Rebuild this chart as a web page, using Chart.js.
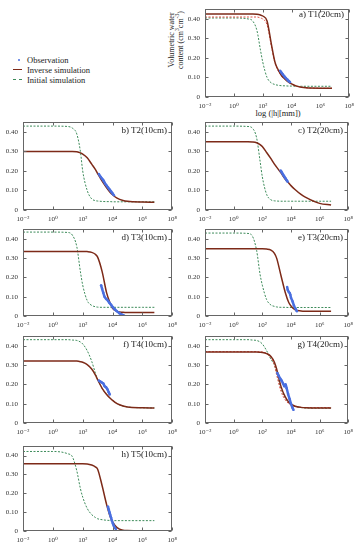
<!DOCTYPE html>
<html>
<head>
<meta charset="utf-8">
<script src="https://cdn.jsdelivr.net/npm/chart.js@4.4.1/dist/chart.umd.min.js"></script>
<style>
  body { margin:0; background:#fff; width:357px; height:550px; position:relative; overflow:hidden;
         font-family:"Liberation Serif","DejaVu Serif",serif; color:#222; }
  .pnl { position:absolute; }
  .tag { position:absolute; font-size:9px; white-space:nowrap; }
  .leg { position:absolute; left:27px; font-size:8.5px; line-height:10px; white-space:nowrap; }
  .sym { position:absolute; }
  sup { font-size:70%; line-height:0; }
</style>
</head>
<body>

<div class="sym" style="left:18px;top:59px;width:2px;height:2px;background:#4a6fe0;border-radius:1px"></div>
<div class="leg" style="top:55px">Observation</div>
<div class="sym" style="left:13px;top:69px;width:9px;height:0;border-top:1.5px solid #7d2a18"></div>
<div class="leg" style="top:65px">Inverse simulation</div>
<div class="sym" style="left:13px;top:79px;width:9px;height:0;border-top:1px dashed #3d8b5a"></div>
<div class="leg" style="top:75px">Initial simulation</div>

<div style="position:absolute;left:136px;top:31px;width:80px;transform:rotate(-90deg);text-align:center;font-size:8px;line-height:9px">Volumetric water<br>content (cm<sup>3</sup>cm<sup>-3</sup>)</div>
<div style="position:absolute;left:238px;top:108px;width:80px;text-align:center;font-size:8.5px">log (|h|[mm])</div>

<script>
// pressure head grid (mm) shared by the simulated curves
const H = [0.01, 1, 10, 20, 40, 70, 100, 200, 400, 700, 1000, 2000, 4000, 7000, 10000, 20000, 50000, 100000, 1000000, 6300000];

const XTICKS = [0.01, 1, 100, 10000, 1000000, 100000000];
const XLABELS = ['10⁻²', '10⁰', '10²', '10⁴', '10⁶', '10⁸'];
const YTICKS = [0, 0.05, 0.10, 0.15, 0.20, 0.25, 0.30, 0.35, 0.40, 0.45];
const YLABELS = ['0', '0.05', '0.10', '0.15', '0.20', '0.25', '0.30', '0.35', '0.40', '0.45'];

// a) T1(20cm)
const A_INV  = [.425,.425,.425,.425,.424,.42,.415,.39,.27,.18,.15,.11,.088,.074,.067,.057,.05,.047,.045,.045];
const A_INIT = [.405,.405,.40,.39,.34,.24,.18,.10,.072,.064,.061,.058,.057,.056,.056,.055,.055,.055,.055,.055];
const A_ALT  = [.41,.41,.41,.41,.41,.405,.40,.37,.26,.175,.145,.108,.086,.073,.066,.057,.05,.047,.045,.045];
const A_OBS_H = [1600, 2000, 2500, 3200, 4000, 5000, 6300, 7900];
const A_OBS   = [.135, .125, .115, .105, .097, .09, .082, .076];

// b) T2(10cm)
const B_INV  = [.30,.30,.30,.30,.298,.293,.287,.268,.235,.208,.187,.148,.114,.09,.078,.061,.049,.045,.041,.04];
const B_INIT = [.43,.43,.428,.42,.39,.30,.20,.10,.057,.048,.046,.044,.043,.043,.042,.042,.042,.042,.042,.042];
const B_OBS_H = [1200, 1600, 2000, 2500, 3200, 4000, 5000, 6300, 8000, 10000, 12500];
const B_OBS   = [.185, .17, .16, .15, .135, .125, .115, .105, .095, .085, .075];

// c) T2(20cm)
const C_INV  = [.35,.35,.35,.349,.345,.335,.325,.295,.263,.235,.22,.19,.158,.138,.125,.104,.08,.066,.034,.026];
const C_INIT = [.43,.43,.428,.42,.37,.25,.17,.08,.052,.047,.046,.045,.045,.045,.045,.045,.045,.045,.045,.045];
const C_OBS_H = [1900, 2300, 2800, 3400, 4200, 5000, 5900];
const C_OBS   = [.203, .193, .182, .172, .162, .153, .145];

// d) T3(10cm)
const D_INV  = [.335,.335,.335,.335,.335,.335,.335,.334,.33,.32,.305,.23,.12,.065,.04,.024,.019,.018,.018,.018];
const D_INIT = [.435,.435,.433,.42,.36,.23,.16,.08,.055,.048,.046,.045,.045,.045,.045,.045,.045,.045,.045,.045];
const D_OBS_H = [1700, 2000, 2400, 2900, 3800, 5000, 6500, 8000, 10500, 14000, 20000, 28000, 40000, 60000];
const D_OBS   = [.16, .14, .12, .10, .088, .078, .066, .058, .046, .035, .024, .015, .008, .002];

// e) T3(20cm)
const E_INV  = [.348,.348,.348,.348,.348,.348,.348,.347,.342,.325,.30,.21,.122,.07,.052,.032,.026,.025,.025,.025];
const E_INIT = [.43,.43,.428,.415,.34,.215,.16,.085,.057,.05,.047,.045,.045,.044,.044,.044,.044,.044,.044,.044];
const E_OBS_H = [5400, 6000, 7000, 8000, 9000, 10000, 13000, 16000, 20000, 26000];
const E_OBS   = [.15, .135, .125, .12, .11, .095, .075, .055, .04, .025];

// f) T4(10cm)
const F_INV  = [.322,.322,.322,.322,.321,.318,.315,.303,.28,.25,.225,.18,.148,.128,.117,.10,.088,.083,.079,.078];
const F_INIT = [.432,.432,.432,.43,.428,.42,.41,.375,.32,.26,.226,.18,.148,.128,.117,.10,.088,.083,.079,.078];
const F_OBS_H = [1200, 1500, 1900, 2400, 3000, 3700, 4500, 5500, 6500];
const F_OBS   = [.22, .215, .21, .205, .19, .185, .175, .16, .148];

// g) T4(20cm)
const G_INV  = [.368,.368,.368,.368,.368,.367,.366,.36,.345,.315,.28,.19,.135,.108,.098,.087,.081,.079,.078,.078];
const G_INIT = [.432,.432,.432,.43,.428,.42,.41,.375,.33,.30,.26,.18,.13,.105,.095,.085,.08,.078,.077,.077];
const G_ALT  = [.37,.37,.37,.37,.37,.369,.368,.36,.34,.30,.25,.165,.12,.10,.092,.085,.081,.08,.08,.08];
const G_OBS_H = [1100, 1400, 1800, 2200, 2800, 3500, 4200, 5000, 6300, 8000, 10000, 12500, 15000];
const G_OBS   = [.26, .245, .23, .22, .205, .19, .2, .18, .15, .125, .10, .08, .068];

// h) T5(10cm)
const H_INV  = [.357,.357,.357,.357,.357,.357,.357,.356,.35,.34,.328,.24,.14,.075,.048,.018,.004,.002,.001,.001];
const H_INIT = [.422,.422,.41,.395,.32,.225,.18,.12,.087,.072,.065,.06,.057,.056,.055,.055,.055,.055,.055,.055];
const H_OBS_H = [4900, 5500, 6200, 7000, 8000, 9000, 10500, 12000, 14000, 17000];
const H_OBS   = [.13, .115, .10, .085, .07, .055, .04, .028, .018, .01];

const COL_OBS = '#4a6fe0', COL_INV = '#7d2a18', COL_INIT = '#3d8b5a', COL_ALT = '#e0524a';
const FONT = { family: '"Liberation Serif","DejaVu Serif",serif', size: 7 };
const YW = 26, PT = 5, PR = 8, XH = 18;

const panels = [
  { tag:'a) T1(20cm)', left:205, top:5,   w:146, h:92, ty:10, inv:A_INV, init:A_INIT, alt:A_ALT, oh:A_OBS_H, ov:A_OBS },
  { tag:'b) T2(10cm)', left:23,  top:118, w:151, h:92, ty:13, inv:B_INV, init:B_INIT, oh:B_OBS_H, ov:B_OBS },
  { tag:'c) T2(20cm)', left:205, top:118, w:145, h:92, ty:13, inv:C_INV, init:C_INIT, oh:C_OBS_H, ov:C_OBS },
  { tag:'d) T3(10cm)', left:23,  top:225, w:151, h:91, ty:13, inv:D_INV, init:D_INIT, oh:D_OBS_H, ov:D_OBS },
  { tag:'e) T3(20cm)', left:205, top:225, w:145, h:91, ty:13, inv:E_INV, init:E_INIT, oh:E_OBS_H, ov:E_OBS },
  { tag:'f) T4(10cm)', left:23,  top:332, w:151, h:91, ty:13, inv:F_INV, init:F_INIT, oh:F_OBS_H, ov:F_OBS },
  { tag:'g) T4(20cm)', left:205, top:332, w:145, h:91, ty:13, inv:G_INV, init:G_INIT, alt:G_ALT, oh:G_OBS_H, ov:G_OBS },
  { tag:'h) T5(10cm)', left:23,  top:442, w:151, h:89, ty:13, inv:H_INV, init:H_INIT, oh:H_OBS_H, ov:H_OBS },
];

// box frame with inward tick marks
const frame = {
  id: 'frame',
  afterDraw(chart) {
    const { ctx, chartArea: a, scales: { x, y } } = chart;
    const l = Math.round(a.left) + 0.5, r = Math.round(a.right) - 0.5;
    const t = Math.round(a.top) + 0.5, b = Math.round(a.bottom) - 0.5;
    ctx.save();
    ctx.strokeStyle = '#666';
    ctx.lineWidth = 1;
    ctx.strokeRect(l, t, r - l, b - t);
    ctx.beginPath();
    x.ticks.forEach(tk => {
      const px = Math.round(x.getPixelForValue(tk.value)) + 0.5;
      ctx.moveTo(px, b); ctx.lineTo(px, b - 3);
      ctx.moveTo(px, t); ctx.lineTo(px, t + 3);
    });
    y.ticks.forEach(tk => {
      const py = Math.round(y.getPixelForValue(tk.value)) + 0.5;
      ctx.moveTo(l, py); ctx.lineTo(l + 3, py);
      ctx.moveTo(r, py); ctx.lineTo(r - 3, py);
    });
    ctx.stroke();
    ctx.restore();
  }
};

const pts = (xs, ys) => xs.map((v, i) => ({ x: v, y: ys[i] }));

function makePanel(p) {
  const wrap = document.createElement('div');
  wrap.className = 'pnl';
  wrap.style.left = (p.left - YW) + 'px';
  wrap.style.top = (p.top - PT) + 'px';
  const cv = document.createElement('canvas');
  const cw = YW + p.w + PR, ch = PT + p.h + XH;
  cv.width = cw; cv.height = ch;
  cv.style.width = cw + 'px'; cv.style.height = ch + 'px';
  wrap.appendChild(cv);
  document.body.appendChild(wrap);

  const tag = document.createElement('div');
  tag.className = 'tag';
  tag.textContent = p.tag;
  tag.style.right = (357 - (p.left + p.w - 7)) + 'px';
  tag.style.top = (p.top + p.ty - 6) + 'px';
  document.body.appendChild(tag);

  const sets = [
    { label:'Observation', data: pts(p.oh, p.ov), borderColor: COL_OBS, backgroundColor: COL_OBS,
      borderWidth: 2.5, pointRadius: 1.2, pointBorderWidth: 0, tension: 0.3 },
    { label:'Inverse simulation', data: pts(H, p.inv), borderColor: COL_INV, borderWidth: 1.5,
      pointRadius: 0, cubicInterpolationMode: 'monotone' },
  ];
  if (p.alt) sets.push({ label:'', data: pts(H, p.alt), borderColor: COL_ALT, borderWidth: 1,
      borderDash: [2, 1.5], pointRadius: 0, cubicInterpolationMode: 'monotone' });
  sets.push({ label:'Initial simulation', data: pts(H, p.init), borderColor: COL_INIT, borderWidth: 1,
      borderDash: [2, 1.5], pointRadius: 0, cubicInterpolationMode: 'monotone' });

  new Chart(cv, {
    type: 'line',
    data: { datasets: sets },
    options: {
      responsive: false,
      animation: false,
      devicePixelRatio: 1,
      layout: { padding: { left: 0, top: PT, right: PR, bottom: 0 } },
      plugins: { legend: { display: false }, tooltip: { enabled: false } },
      scales: {
        x: {
          type: 'logarithmic', min: 0.01, max: 100000000,
          afterBuildTicks: s => { s.ticks = XTICKS.map(v => ({ value: v })); },
          afterFit: s => { s.height = XH; },
          grid: { display: false, drawTicks: false },
          border: { display: false },
          ticks: { callback: (v, i) => XLABELS[i], font: FONT, color: '#333', padding: 5,
                   maxRotation: 0, autoSkip: false }
        },
        y: {
          min: 0, max: 0.45,
          afterBuildTicks: s => { s.ticks = YTICKS.map(v => ({ value: v })); },
          afterFit: s => { s.width = YW; },
          grid: { display: false, drawTicks: false },
          border: { display: false },
          ticks: { callback: (v, i) => YLABELS[i], font: FONT, color: '#333', padding: 5 }
        }
      }
    },
    plugins: [frame]
  });
}

panels.forEach(makePanel);
</script>
</body>
</html>
